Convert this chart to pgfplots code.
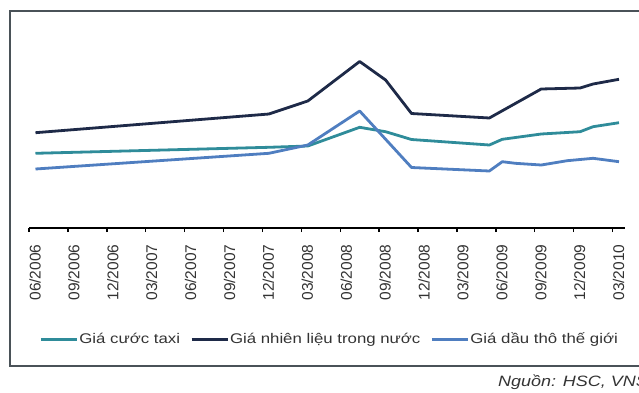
\documentclass[border=0pt]{standalone}
\usepackage{fontspec}
\setmainfont{Liberation Sans}
\newfontfamily\widefont[FakeStretch=1.2]{Liberation Sans}
\usepackage{pgfplots}
\pgfplotsset{compat=1.18}

\definecolor{taxi}{HTML}{2F8C9A}
\definecolor{fuel}{HTML}{1E2A48}
\definecolor{crude}{HTML}{4F7EC0}
\definecolor{framegray}{HTML}{4A5258}
\definecolor{txt}{HTML}{333333}

% Monthly series, x = months since 06/2006 (mid-month points), y = index level
\pgfplotstableread{
x    y
0.5  74.7
18.5 80.7
21.5 82
25.5 100.7
27.5 96.3
29.5 88.5
35.5 83
36.5 88.7
39.5 94
42.5 96.3
43.5 101.3
45.5 105.3
}\taxidata

\pgfplotstableread{
x    y
0.5  95.3
18.5 114
21.5 127
25.5 166.5
27.5 148
29.5 114.5
35.5 110
39.5 139
42.5 140
43.5 144
45.5 148.7
}\fueldata

\pgfplotstableread{
x    y
0.5  59
18.5 74.7
21.5 83
25.5 117
29.5 60.5
35.5 57
36.5 66.3
37.5 64.7
39.5 63
41.5 67.3
43.5 69.7
45.5 66.3
}\crudedata

\begin{document}
\begin{tikzpicture}[x=1pt,y=1pt]
\useasboundingbox (0,0) rectangle (639,392);
% outer frame (open on the right)
\draw[framegray, line width=1.4pt] (680,381) -- (10,381) -- (10,26) -- (680,26);
\begin{axis}[
  at={(29pt,164pt)}, anchor=south west,
  scale only axis,
  x=12.967pt, y=1pt,
  xmin=0, xmax=46, ymin=0, ymax=208,
  axis x line*=bottom, axis y line=none,
  x axis line style={line width=2.6pt, black, -},
  xtick={0,3,...,45},
  xticklabels={06/2006,09/2006,12/2006,03/2007,06/2007,09/2007,12/2007,03/2008,06/2008,09/2008,12/2008,03/2009,06/2009,09/2009,12/2009,03/2010},
  major tick length=4pt,
  xtick align=outside,
  tick style={black, line width=1.4pt},
  xticklabel style={xshift=6pt, yshift=-9pt, rotate=90, anchor=east, font=\fontsize{15.5}{18}\selectfont, text=txt},
  clip=false,
  every axis plot/.append style={line width=2.8pt, line join=round, mark=none},
  legend columns=3,
  legend cell align=left,
  legend style={draw=none, fill=none, at={(0.012,-0.535)}, anchor=west,
    font=\widefont\fontsize{14}{16}\selectfont, text=txt,
    nodes={inner sep=1pt},
    /tikz/every even column/.append style={column sep=9pt}},
  legend image code/.code={\draw[#1, line width=3pt] (0pt,0pt) -- (36pt,0pt);},
]
\addplot[taxi] table[x=x, y=y] {\taxidata};
\addlegendentry{Giá cước taxi}
\addplot[fuel] table[x=x, y=y] {\fueldata};
\addlegendentry{Giá nhiên liệu trong nước}
\addplot[crude] table[x=x, y=y] {\crudedata};
\addlegendentry{Giá dầu thô thế giới}
\end{axis}
\node[anchor=west, font=\widefont\itshape\fontsize{15}{17}\selectfont, text=txt, inner sep=0pt] at (498,10) {Nguồn: HSC, VNS};
\end{tikzpicture}
\end{document}
